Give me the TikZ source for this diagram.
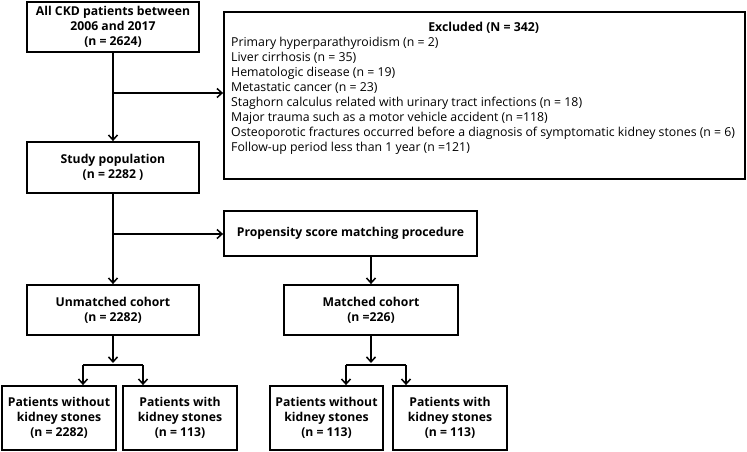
\documentclass[tikz,border=0pt]{standalone}
\usepackage{fontspec}
\setmainfont{Open Sans}
\usetikzlibrary{arrows.meta}
\begin{document}
\begin{tikzpicture}[x=1pt,y=-1pt,
  box/.style={draw,line width=1.8pt,align=center,font=\fontsize{12.2}{15.2}\selectfont\bfseries,inner sep=0pt},
  conn/.style={line width=1.8pt},
  arr/.style={conn,-{Straight Barb[length=5pt,width=9pt,line width=1.5pt]}}]
\useasboundingbox (0,0) rectangle (747,451);
\node[box,minimum width=172pt,minimum height=50pt] (all) at (113,27) {All CKD patients between\\2006 and 2017\\(n = 2624)};
\node[box,minimum width=521pt,minimum height=167pt] (excl) at (484.5,95.5) {};
\node[anchor=north west,inner sep=0pt,align=left,font=\fontsize{12.3}{15}\selectfont] (excltext) at (231,21.5)
 {\makebox[505pt]{\bfseries Excluded (N = 342)}\\
 Primary hyperparathyroidism (n = 2)\\
 Liver cirrhosis (n = 35)\\
 Hematologic disease (n = 19)\\
 Metastatic cancer (n = 23)\\
 Staghorn calculus related with urinary tract infections (n = 18)\\
 Major trauma such as a motor vehicle accident (n =118)\\
 Osteoporotic fractures occurred before a diagnosis of symptomatic kidney stones (n = 6)\\
 Follow-up period less than 1 year (n =121)};
\node[box,minimum width=172pt,minimum height=51pt] (study) at (113,167.5) {Study population\\(n = 2282 )};
\node[box,minimum width=253pt,minimum height=45pt] (psm) at (350.5,233.5) {Propensity score matching procedure};
\node[box,minimum width=172pt,minimum height=50pt] (unm) at (113,310) {Unmatched cohort\\(n = 2282)};
\node[box,minimum width=174pt,minimum height=50pt] (mat) at (371,310) {Matched cohort\\(n =226)};
\node[box,minimum width=114pt,minimum height=64pt] (b1) at (59,418) {Patients without\\kidney stones\\(n = 2282)};
\node[box,minimum width=114pt,minimum height=64pt] (b2) at (180,418) {Patients with\\kidney stones\\(n = 113)};
\node[box,minimum width=113pt,minimum height=64pt] (b3) at (326.5,418) {Patients without\\kidney stones\\(n = 113)};
\node[box,minimum width=114pt,minimum height=64pt] (b4) at (450,418) {Patients with\\kidney stones\\(n = 113)};
% connectors
\coordinate (j1) at (113,93);
\draw[arr] (all.south) -- (study.north);
\draw[arr] (j1) -- (excl.west |- j1);
\coordinate (j2) at (113,234);
\draw[arr] (study.south) -- (unm.north);
\draw[arr] (j2) -- (psm.west |- j2);
\draw[arr] (psm.south -| mat.north) -- (mat.north);
% unmatched split
\coordinate (ul) at (83,365);
\coordinate (ur) at (143,365);
\draw[arr] (unm.south) -- (113,363);
\draw[conn] (ul) -- (ur);
\draw[arr] (ul) -- (ul |- b1.north);
\draw[arr] (ur) -- (ur |- b2.north);
% matched split
\coordinate (ml) at (346,365);
\coordinate (mr) at (406,365);
\draw[arr] (mat.south) -- (371,363);
\draw[conn] (ml) -- (mr);
\draw[arr] (ml) -- (ml |- b3.north);
\draw[arr] (mr) -- (mr |- b4.north);
\end{tikzpicture}
\end{document}
